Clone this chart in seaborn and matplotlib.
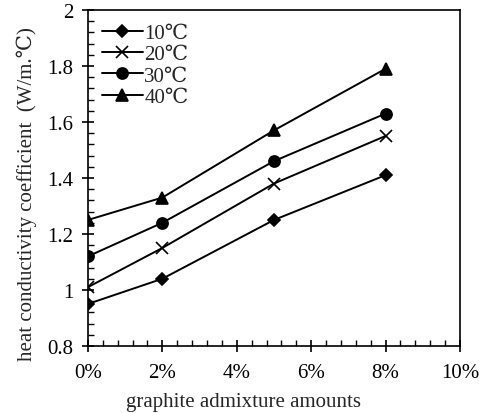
import pandas as pd
import matplotlib
matplotlib.use("Agg")
import matplotlib.pyplot as plt
import seaborn as sns
from matplotlib.ticker import MultipleLocator, FuncFormatter

# Data
admixture = [0, 2, 5, 8]  # graphite %
temps = ["10℃", "20℃", "30℃", "40℃"]
k_10 = [0.95, 1.04, 1.25, 1.41]
k_20 = [1.01, 1.15, 1.38, 1.55]
k_30 = [1.12, 1.24, 1.46, 1.63]
k_40 = [1.25, 1.33, 1.57, 1.79]

rows = []
for t, vals in zip(temps, [k_10, k_20, k_30, k_40]):
    for x, v in zip(admixture, vals):
        rows.append({"admixture": x, "k": v, "temp": t})
df = pd.DataFrame(rows)

sns.set_style("ticks")
plt.rcParams["font.family"] = ["Liberation Serif", "DejaVu Serif"]
fs = 15

fig = plt.figure(figsize=(4.86, 4.14), dpi=100)
ax = fig.add_axes([0.181, 0.162, 0.7655, 0.8115])

markers = {"10℃": "D", "20℃": "x", "30℃": "o", "40℃": "^"}
sizes = {"10℃": 6, "20℃": 8, "30℃": 8, "40℃": 8}
for t in temps:
    sub = df[df["temp"] == t]
    sns.lineplot(data=sub, x="admixture", y="k", ax=ax, color="black",
                 marker=markers[t], markersize=sizes[t], markeredgewidth=1.2,
                 markeredgecolor="black", linewidth=1.4, label=t)

ax.set_xlim(0, 10)
ax.set_ylim(0.8, 2.0)
ax.xaxis.set_major_locator(MultipleLocator(2))
ax.xaxis.set_minor_locator(MultipleLocator(0.4))
ax.yaxis.set_major_locator(MultipleLocator(0.2))
ax.yaxis.set_minor_locator(MultipleLocator(0.04))
ax.xaxis.set_major_formatter(FuncFormatter(lambda v, p: f"{v:g}%"))
ax.yaxis.set_major_formatter(FuncFormatter(lambda v, p: f"{v:g}"))
ax.tick_params(which="major", direction="inout", length=9, width=1.2, colors="black", labelsize=fs)
ax.tick_params(axis="x", which="major", pad=8)
ax.tick_params(axis="y", which="major", pad=6)
ax.tick_params(which="minor", direction="in", length=4, width=1.0, colors="black")
ax.tick_params(axis="x", which="both", top=False)
ax.tick_params(axis="y", which="both", right=False)
for s in ax.spines.values():
    s.set_visible(True)
    s.set_color("black")
    s.set_linewidth(1.2)

ax.set_xlabel("graphite admixture amounts", fontsize=fs)
ax.set_ylabel("heat conductivity coefficient  (W/m.℃)", fontsize=fs)
ax.xaxis.set_label_coords(0.417, -0.136)
ax.yaxis.set_label_coords(-0.137, 0.455)

leg = ax.legend(loc="upper left", frameon=False, handlelength=2.0, handletextpad=0.05,
                labelspacing=0.08, borderaxespad=0.3, borderpad=0.35, fontsize=fs)

fig.savefig("out.png", dpi=100)
